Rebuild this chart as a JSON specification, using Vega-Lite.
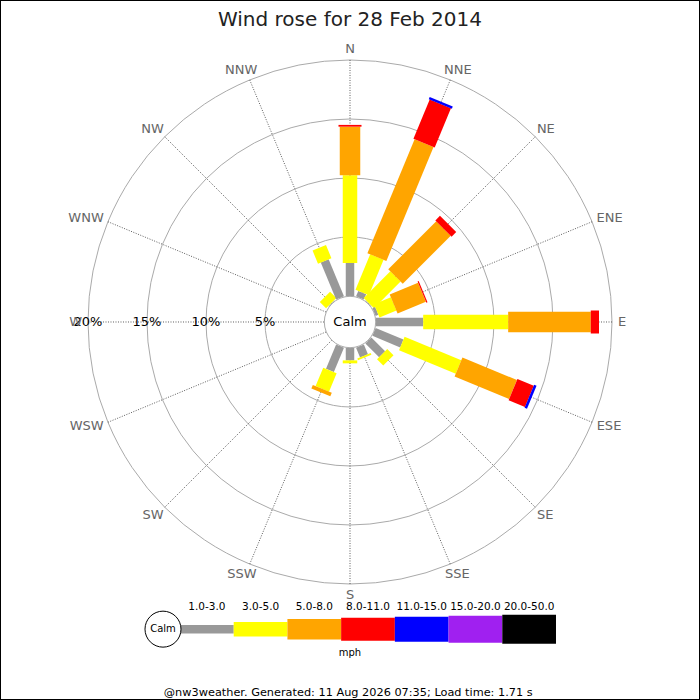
{
  "$schema": "https://vega.github.io/schema/vega-lite/v6.json",
  "width": 700,
  "height": 700,
  "padding": 0,
  "autosize": {"type": "none"},
  "background": "#ffffff",
  "view": {"stroke": "#000000", "strokeWidth": 2, "fill": "#ffffff"},
  "config": {"font": "DejaVu Sans"},
  "title": {
    "text": "Wind rose for 28 Feb 2014",
    "font": "DejaVu Sans",
    "fontSize": 20,
    "fontWeight": "normal",
    "color": "#222222",
    "anchor": "middle",
    "baseline": "alphabetic",
    "offset": -46
  },
  "datasets": {
    "winds": [
      {"dir": "N", "deg": 0, "band": "1.0-3.0", "pct": 2.8},
      {"dir": "N", "deg": 0, "band": "3.0-5.0", "pct": 7.43},
      {"dir": "N", "deg": 0, "band": "5.0-8.0", "pct": 4.12},
      {"dir": "N", "deg": 0, "band": "8.0-11.0", "pct": 0.15},
      {"dir": "NNE", "deg": 22.5, "band": "1.0-3.0", "pct": 0.5},
      {"dir": "NNE", "deg": 22.5, "band": "3.0-5.0", "pct": 3.25},
      {"dir": "NNE", "deg": 22.5, "band": "5.0-8.0", "pct": 10.45},
      {"dir": "NNE", "deg": 22.5, "band": "8.0-11.0", "pct": 3.6},
      {"dir": "NNE", "deg": 22.5, "band": "11.0-15.0", "pct": 0.2},
      {"dir": "NE", "deg": 45, "band": "1.0-3.0", "pct": 0.05},
      {"dir": "NE", "deg": 45, "band": "3.0-5.0", "pct": 3.2},
      {"dir": "NE", "deg": 45, "band": "5.0-8.0", "pct": 5.75},
      {"dir": "NE", "deg": 45, "band": "8.0-11.0", "pct": 0.55},
      {"dir": "ENE", "deg": 67.5, "band": "1.0-3.0", "pct": 0.25},
      {"dir": "ENE", "deg": 67.5, "band": "3.0-5.0", "pct": 1.55},
      {"dir": "ENE", "deg": 67.5, "band": "5.0-8.0", "pct": 2.6},
      {"dir": "ENE", "deg": 67.5, "band": "8.0-11.0", "pct": 0.1},
      {"dir": "E", "deg": 90, "band": "1.0-3.0", "pct": 4.0},
      {"dir": "E", "deg": 90, "band": "3.0-5.0", "pct": 7.2},
      {"dir": "E", "deg": 90, "band": "5.0-8.0", "pct": 7.0},
      {"dir": "E", "deg": 90, "band": "8.0-11.0", "pct": 0.7},
      {"dir": "ESE", "deg": 112.5, "band": "1.0-3.0", "pct": 2.55},
      {"dir": "ESE", "deg": 112.5, "band": "3.0-5.0", "pct": 5.2},
      {"dir": "ESE", "deg": 112.5, "band": "5.0-8.0", "pct": 5.0},
      {"dir": "ESE", "deg": 112.5, "band": "8.0-11.0", "pct": 1.5},
      {"dir": "ESE", "deg": 112.5, "band": "11.0-15.0", "pct": 0.22},
      {"dir": "SE", "deg": 135, "band": "1.0-3.0", "pct": 1.65},
      {"dir": "SE", "deg": 135, "band": "3.0-5.0", "pct": 0.75},
      {"dir": "SSE", "deg": 157.5, "band": "1.0-3.0", "pct": 0.9},
      {"dir": "SSE", "deg": 157.5, "band": "3.0-5.0", "pct": 0.15},
      {"dir": "S", "deg": 180, "band": "1.0-3.0", "pct": 1.05},
      {"dir": "S", "deg": 180, "band": "3.0-5.0", "pct": 0.25},
      {"dir": "SSW", "deg": 202.5, "band": "1.0-3.0", "pct": 2.24},
      {"dir": "SSW", "deg": 202.5, "band": "3.0-5.0", "pct": 1.69},
      {"dir": "SSW", "deg": 202.5, "band": "5.0-8.0", "pct": 0.32},
      {"dir": "NW", "deg": 315, "band": "1.0-3.0", "pct": 0.05},
      {"dir": "NW", "deg": 315, "band": "3.0-5.0", "pct": 0.75},
      {"dir": "NNW", "deg": 337.5, "band": "1.0-3.0", "pct": 3.4},
      {"dir": "NNW", "deg": 337.5, "band": "3.0-5.0", "pct": 1.2}
    ],
    "directions": [
      {"dir": "N", "deg": 0},
      {"dir": "NNE", "deg": 22.5},
      {"dir": "NE", "deg": 45},
      {"dir": "ENE", "deg": 67.5},
      {"dir": "E", "deg": 90},
      {"dir": "ESE", "deg": 112.5},
      {"dir": "SE", "deg": 135},
      {"dir": "SSE", "deg": 157.5},
      {"dir": "S", "deg": 180},
      {"dir": "SSW", "deg": 202.5},
      {"dir": "SW", "deg": 225},
      {"dir": "WSW", "deg": 247.5},
      {"dir": "W", "deg": 270},
      {"dir": "WNW", "deg": 292.5},
      {"dir": "NW", "deg": 315},
      {"dir": "NNW", "deg": 337.5}
    ],
    "rings": [{"ring": 5}, {"ring": 10}, {"ring": 15}, {"ring": 20}],
    "bands": [
      {"band": "1.0-3.0", "i": 0},
      {"band": "3.0-5.0", "i": 1},
      {"band": "5.0-8.0", "i": 2},
      {"band": "8.0-11.0", "i": 3},
      {"band": "11.0-15.0", "i": 4},
      {"band": "15.0-20.0", "i": 5},
      {"band": "20.0-50.0", "i": 6}
    ]
  },
  "layer": [
    {
      "layer": [
        {
          "data": {"name": "rings"},
          "transform": [{"calculate": "datum.ring + 2.2034", "as": "r"}],
          "mark": {"type": "arc", "filled": false, "stroke": "#aaaaaa", "strokeWidth": 1, "theta": 0, "theta2": 6.2832},
          "encoding": {
            "x": {"datum": 0, "type": "quantitative", "scale": {"domain": [-29.661, 29.661], "nice": false, "zero": false}, "axis": null},
            "y": {"datum": 0, "type": "quantitative", "scale": {"domain": [-32.034, 27.288], "nice": false, "zero": false}, "axis": null},
            "radius": {"field": "r", "type": "quantitative", "stack": null, "scale": {"type": "linear", "domain": [0, 29.661], "range": [0, 350], "zero": true, "nice": false}, "legend": null}
          }
        },
        {
          "data": {"name": "directions"},
          "transform": [
            {"calculate": "datum.deg * PI / 180", "as": "a"},
            {"calculate": "2.2034 * sin(datum.a)", "as": "x0"},
            {"calculate": "2.2034 * cos(datum.a)", "as": "y0"},
            {"calculate": "22.2034 * sin(datum.a)", "as": "x1"},
            {"calculate": "22.2034 * cos(datum.a)", "as": "y1"}
          ],
          "mark": {"type": "rule", "stroke": "#333333", "strokeWidth": 0.8, "strokeDash": [1, 1.5]},
          "encoding": {
            "x": {"field": "x0", "type": "quantitative", "scale": {"domain": [-29.661, 29.661], "nice": false, "zero": false}, "axis": null},
            "y": {"field": "y0", "type": "quantitative", "scale": {"domain": [-32.034, 27.288], "nice": false, "zero": false}, "axis": null},
            "x2": {"field": "x1"},
            "y2": {"field": "y1"}
          }
        },
        {
          "data": {"name": "winds"},
          "transform": [
            {"stack": "pct", "groupby": ["dir"], "as": ["p0", "p1"]},
            {"calculate": "datum.deg * PI / 180", "as": "a"},
            {"calculate": "(datum.p0 + 2.2034) * sin(datum.a)", "as": "x0"},
            {"calculate": "(datum.p0 + 2.2034) * cos(datum.a)", "as": "y0"},
            {"calculate": "(datum.p1 + 2.2034) * sin(datum.a)", "as": "x1"},
            {"calculate": "(datum.p1 + 2.2034) * cos(datum.a)", "as": "y1"}
          ],
          "mark": {"type": "rule", "strokeCap": "butt"},
          "encoding": {
            "x": {"field": "x0", "type": "quantitative", "scale": {"domain": [-29.661, 29.661], "nice": false, "zero": false}, "axis": null},
            "y": {"field": "y0", "type": "quantitative", "scale": {"domain": [-32.034, 27.288], "nice": false, "zero": false}, "axis": null},
            "x2": {"field": "x1"},
            "y2": {"field": "y1"},
            "color": {
              "field": "band", "type": "nominal", "legend": null,
              "scale": {
                "domain": ["1.0-3.0", "3.0-5.0", "5.0-8.0", "8.0-11.0", "11.0-15.0", "15.0-20.0", "20.0-50.0"],
                "range": ["#999999", "#ffff00", "#ffa500", "#ff0000", "#0000ff", "#a020f0", "#000000"]
              }
            },
            "strokeWidth": {
              "field": "band", "type": "ordinal", "legend": null,
              "scale": {
                "type": "ordinal",
                "domain": ["1.0-3.0", "3.0-5.0", "5.0-8.0", "8.0-11.0", "11.0-15.0", "15.0-20.0", "20.0-50.0"],
                "range": [8.5, 14.5, 20.5, 23, 25, 27, 29]
              }
            }
          }
        },
        {
          "data": {"values": [{"label": "Calm"}]},
          "mark": {"type": "arc", "radius": 25.7, "theta": 0, "theta2": 6.2832, "fill": "#ffffff", "stroke": "#aaaaaa", "strokeWidth": 1},
          "encoding": {
            "x": {"datum": 0, "type": "quantitative", "scale": {"domain": [-29.661, 29.661], "nice": false, "zero": false}, "axis": null},
            "y": {"datum": 0, "type": "quantitative", "scale": {"domain": [-32.034, 27.288], "nice": false, "zero": false}, "axis": null}
          }
        },
        {
          "data": {"values": [{"label": "Calm"}]},
          "mark": {"type": "text", "fontSize": 13, "color": "#000000", "baseline": "middle", "align": "center"},
          "encoding": {
            "x": {"datum": 0, "type": "quantitative", "scale": {"domain": [-29.661, 29.661], "nice": false, "zero": false}, "axis": null},
            "y": {"datum": 0, "type": "quantitative", "scale": {"domain": [-32.034, 27.288], "nice": false, "zero": false}, "axis": null},
            "text": {"field": "label"}
          }
        },
        {
          "data": {"name": "rings"},
          "transform": [
            {"calculate": "-(datum.ring + 2.2034)", "as": "xr"},
            {"calculate": "datum.ring + '%'", "as": "label"}
          ],
          "mark": {"type": "text", "fontSize": 13, "color": "#000000", "baseline": "middle", "align": "center"},
          "encoding": {
            "x": {"field": "xr", "type": "quantitative", "scale": {"domain": [-29.661, 29.661], "nice": false, "zero": false}, "axis": null},
            "y": {"datum": 0, "type": "quantitative", "scale": {"domain": [-32.034, 27.288], "nice": false, "zero": false}, "axis": null},
            "text": {"field": "label"}
          }
        },
        {
          "data": {"name": "directions"},
          "transform": [
            {"calculate": "datum.deg * PI / 180", "as": "a"},
            {"calculate": "13 * (0.748 * (length(datum.dir) - length(replace(datum.dir, regexp('N', 'g'), ''))) + 0.632 * (length(datum.dir) - length(replace(datum.dir, regexp('E', 'g'), ''))) + 0.635 * (length(datum.dir) - length(replace(datum.dir, regexp('S', 'g'), ''))) + 0.989 * (length(datum.dir) - length(replace(datum.dir, regexp('W', 'g'), ''))))", "as": "w"},
            {"calculate": "(268 + datum.w / 2) * sin(datum.a) / 11.8", "as": "lx"},
            {"calculate": "(268 + 4.75) * cos(datum.a) / 11.8", "as": "ly"}
          ],
          "mark": {"type": "text", "fontSize": 13, "color": "#666666", "baseline": "middle", "align": "center"},
          "encoding": {
            "x": {"field": "lx", "type": "quantitative", "scale": {"domain": [-29.661, 29.661], "nice": false, "zero": false}, "axis": null},
            "y": {"field": "ly", "type": "quantitative", "scale": {"domain": [-32.034, 27.288], "nice": false, "zero": false}, "axis": null},
            "text": {"field": "dir"}
          }
        },
        {
          "data": {"values": [{"label": "mph"}]},
          "mark": {"type": "text", "fontSize": 10, "color": "#000000", "baseline": "middle", "align": "center"},
          "encoding": {
            "x": {"datum": 0, "type": "quantitative", "scale": {"domain": [-29.661, 29.661], "nice": false, "zero": false}, "axis": null},
            "y": {"datum": -28.05, "type": "quantitative", "scale": {"domain": [-32.034, 27.288], "nice": false, "zero": false}, "axis": null},
            "text": {"field": "label"}
          }
        },
        {
          "data": {"values": [{"label": "@nw3weather. Generated: 11 Aug 2026 07:35; Load time: 1.71 s"}]},
          "mark": {"type": "text", "fontSize": 11.3, "color": "#000000", "baseline": "middle", "align": "center"},
          "encoding": {
            "x": {"datum": -0.15, "type": "quantitative", "scale": {"domain": [-29.661, 29.661], "nice": false, "zero": false}, "axis": null},
            "y": {"datum": -31.4, "type": "quantitative", "scale": {"domain": [-32.034, 27.288], "nice": false, "zero": false}, "axis": null},
            "text": {"field": "label"}
          }
        }
      ]
    },
    {
      "layer": [
        {
          "data": {"name": "bands"},
          "transform": [{"calculate": "datum.i + 1", "as": "i1"}],
          "mark": {"type": "rule", "strokeCap": "butt"},
          "encoding": {
            "x": {"field": "i", "type": "quantitative", "scale": {"domain": [0, 7], "range": [180, 556], "nice": false, "zero": false}, "axis": null},
            "x2": {"field": "i1"},
            "y": {"datum": -26.03, "type": "quantitative", "scale": {"domain": [-32.034, 27.288], "nice": false, "zero": false}, "axis": null},
            "color": {
              "field": "band", "type": "nominal", "legend": null,
              "scale": {
                "domain": ["1.0-3.0", "3.0-5.0", "5.0-8.0", "8.0-11.0", "11.0-15.0", "15.0-20.0", "20.0-50.0"],
                "range": ["#999999", "#ffff00", "#ffa500", "#ff0000", "#0000ff", "#a020f0", "#000000"]
              }
            },
            "strokeWidth": {
              "field": "band", "type": "ordinal", "legend": null,
              "scale": {
                "type": "ordinal",
                "domain": ["1.0-3.0", "3.0-5.0", "5.0-8.0", "8.0-11.0", "11.0-15.0", "15.0-20.0", "20.0-50.0"],
                "range": [8.5, 14.5, 20.5, 23, 25, 27, 29]
              }
            }
          }
        },
        {
          "data": {"name": "bands"},
          "transform": [{"calculate": "datum.i + 0.5", "as": "im"}],
          "mark": {"type": "text", "fontSize": 10.5, "color": "#000000", "baseline": "middle", "align": "center"},
          "encoding": {
            "x": {"field": "im", "type": "quantitative", "scale": {"domain": [0, 7], "range": [180, 556], "nice": false, "zero": false}, "axis": null},
            "y": {"datum": -24.13, "type": "quantitative", "scale": {"domain": [-32.034, 27.288], "nice": false, "zero": false}, "axis": null},
            "text": {"field": "band"}
          }
        },
        {
          "data": {"values": [{"label": "Calm"}]},
          "mark": {"type": "arc", "radius": 18, "theta": 0, "theta2": 6.2832, "fill": "#ffffff", "stroke": "#000000", "strokeWidth": 1},
          "encoding": {
            "x": {"datum": -0.3165, "type": "quantitative", "scale": {"domain": [0, 7], "range": [180, 556], "nice": false, "zero": false}, "axis": null},
            "y": {"datum": -26.03, "type": "quantitative", "scale": {"domain": [-32.034, 27.288], "nice": false, "zero": false}, "axis": null}
          }
        },
        {
          "data": {"values": [{"label": "Calm"}]},
          "mark": {"type": "text", "fontSize": 10, "color": "#000000", "baseline": "middle", "align": "center"},
          "encoding": {
            "x": {"datum": -0.3165, "type": "quantitative", "scale": {"domain": [0, 7], "range": [180, 556], "nice": false, "zero": false}, "axis": null},
            "y": {"datum": -26.03, "type": "quantitative", "scale": {"domain": [-32.034, 27.288], "nice": false, "zero": false}, "axis": null},
            "text": {"field": "label"}
          }
        }
      ]
    }
  ],
  "resolve": {"scale": {"x": "independent"}}
}
